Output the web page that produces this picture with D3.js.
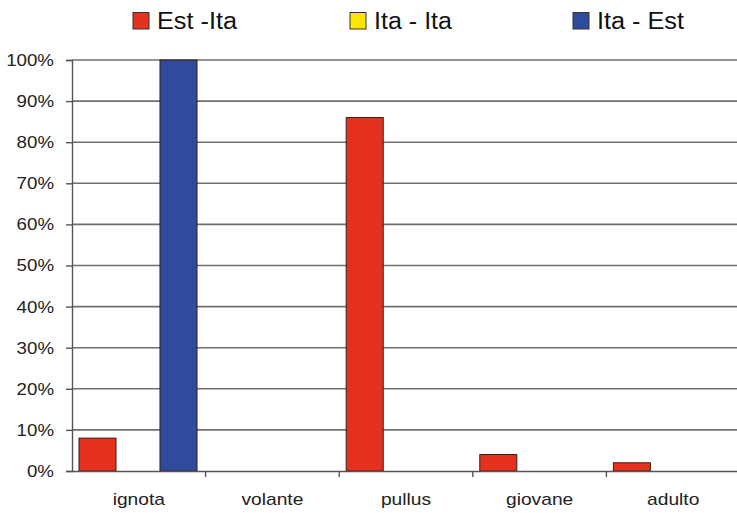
<!DOCTYPE html>
<html><head><meta charset="utf-8">
<script src="https://cdn.jsdelivr.net/npm/d3@7"></script>
<style>html,body{margin:0;padding:0;background:#fff;}svg{display:block;font-family:"Liberation Sans",Arial,sans-serif;}</style>
</head><body>
<svg id="chart" width="737" height="513"></svg>
<script>
const categories = ["ignota", "volante", "pullus", "giovane", "adulto"];
const seriesNames = ["Est -Ita", "Ita - Ita", "Ita - Est"];
const estIta = [8, 0, 86, 4, 2];
const itaIta = [0, 0, 0, 0, 0];
const itaEst = [100, 0, 0, 0, 0];
const yTicks = [0, 10, 20, 30, 40, 50, 60, 70, 80, 90, 100];
const colors = ["#E5321F", "#FFE500", "#2F4B9E"];

const seriesValues = [estIta, itaIta, itaEst];
const svg = d3.select("#chart");
const mLeft = 72, mRight = 740, mTop = 60, mBottom = 471;

const x = d3.scaleBand().domain(categories).range([mLeft, mRight]).padding(0);
const xs = d3.scaleBand().domain(seriesNames).range([7, 125]).paddingInner(0.086).paddingOuter(0);
const y = d3.scaleLinear().domain([0, 100]).range([mBottom, mTop]);

function stretch(sel, f) {
  sel.each(function() {
    const w = this.getComputedTextLength();
    d3.select(this).attr("textLength", w * f).attr("lengthAdjust", "spacingAndGlyphs");
  });
}

// gridlines
svg.append("g").selectAll("line").data(yTicks.filter(d => d > 0)).join("line")
  .attr("x1", mLeft).attr("x2", 737)
  .attr("y1", d => y(d)).attr("y2", d => y(d))
  .attr("stroke", "#707070").attr("stroke-width", 1.6);

// y axis
const yAxis = d3.axisLeft(y).tickValues(yTicks).tickFormat(d => d + "%").tickSize(6).tickPadding(12);
const ya = svg.append("g").attr("transform", `translate(${mLeft},0)`).call(yAxis);
ya.select(".domain").attr("stroke", "#555").attr("stroke-width", 1.4);
ya.selectAll(".tick line").attr("stroke", "#555").attr("stroke-width", 1.4);
ya.selectAll(".tick text").attr("font-size", 17).attr("fill", "#222").attr("font-family", "Liberation Sans, Arial, sans-serif");
stretch(ya.selectAll(".tick text"), 1.1);

// bars
categories.forEach((c, i) => {
  seriesValues.forEach((vals, s) => {
    const v = vals[i];
    if (v <= 0) return;
    svg.append("rect")
      .attr("x", x(c) + xs(seriesNames[s]))
      .attr("width", xs.bandwidth())
      .attr("y", y(v))
      .attr("height", y(0) - y(v))
      .attr("fill", colors[s])
      .attr("stroke", "#3a1a10").attr("stroke-width", 1);
  });
});

// x axis
const xAxis = d3.axisBottom(x).tickSize(6).tickFormat(d => d).tickPadding(16);
const xa = svg.append("g").attr("transform", `translate(0,${mBottom})`).call(xAxis);
xa.select(".domain").attr("stroke", "#555").attr("stroke-width", 1.6).attr("d", `M${mLeft},0.5H737`);
xa.selectAll(".tick line").remove();
xa.selectAll(".tick text").attr("font-size", 17).attr("fill", "#222").attr("font-family", "Liberation Sans, Arial, sans-serif");
stretch(xa.selectAll(".tick text"), 1.13);
// category separators
svg.append("g").selectAll("line").data(categories.slice(1)).join("line")
  .attr("x1", d => x(d)).attr("x2", d => x(d))
  .attr("y1", mBottom).attr("y2", mBottom + 6)
  .attr("stroke", "#555").attr("stroke-width", 1.4);

// legend
const legendX = [133, 350, 573];
const legendW = [80, 78, 87];
const legend = svg.append("g");
seriesNames.forEach((n, i) => {
  legend.append("rect").attr("x", legendX[i]).attr("y", 12.5).attr("width", 16).attr("height", 16.5)
    .attr("fill", colors[i]).attr("stroke", "#333").attr("stroke-width", 1);
  legend.append("text").attr("x", legendX[i] + 24).attr("y", 29)
    .attr("font-size", 23).attr("fill", "#111")
    .attr("textLength", legendW[i]).attr("lengthAdjust", "spacingAndGlyphs").text(n);
});
</script>
</body></html>
